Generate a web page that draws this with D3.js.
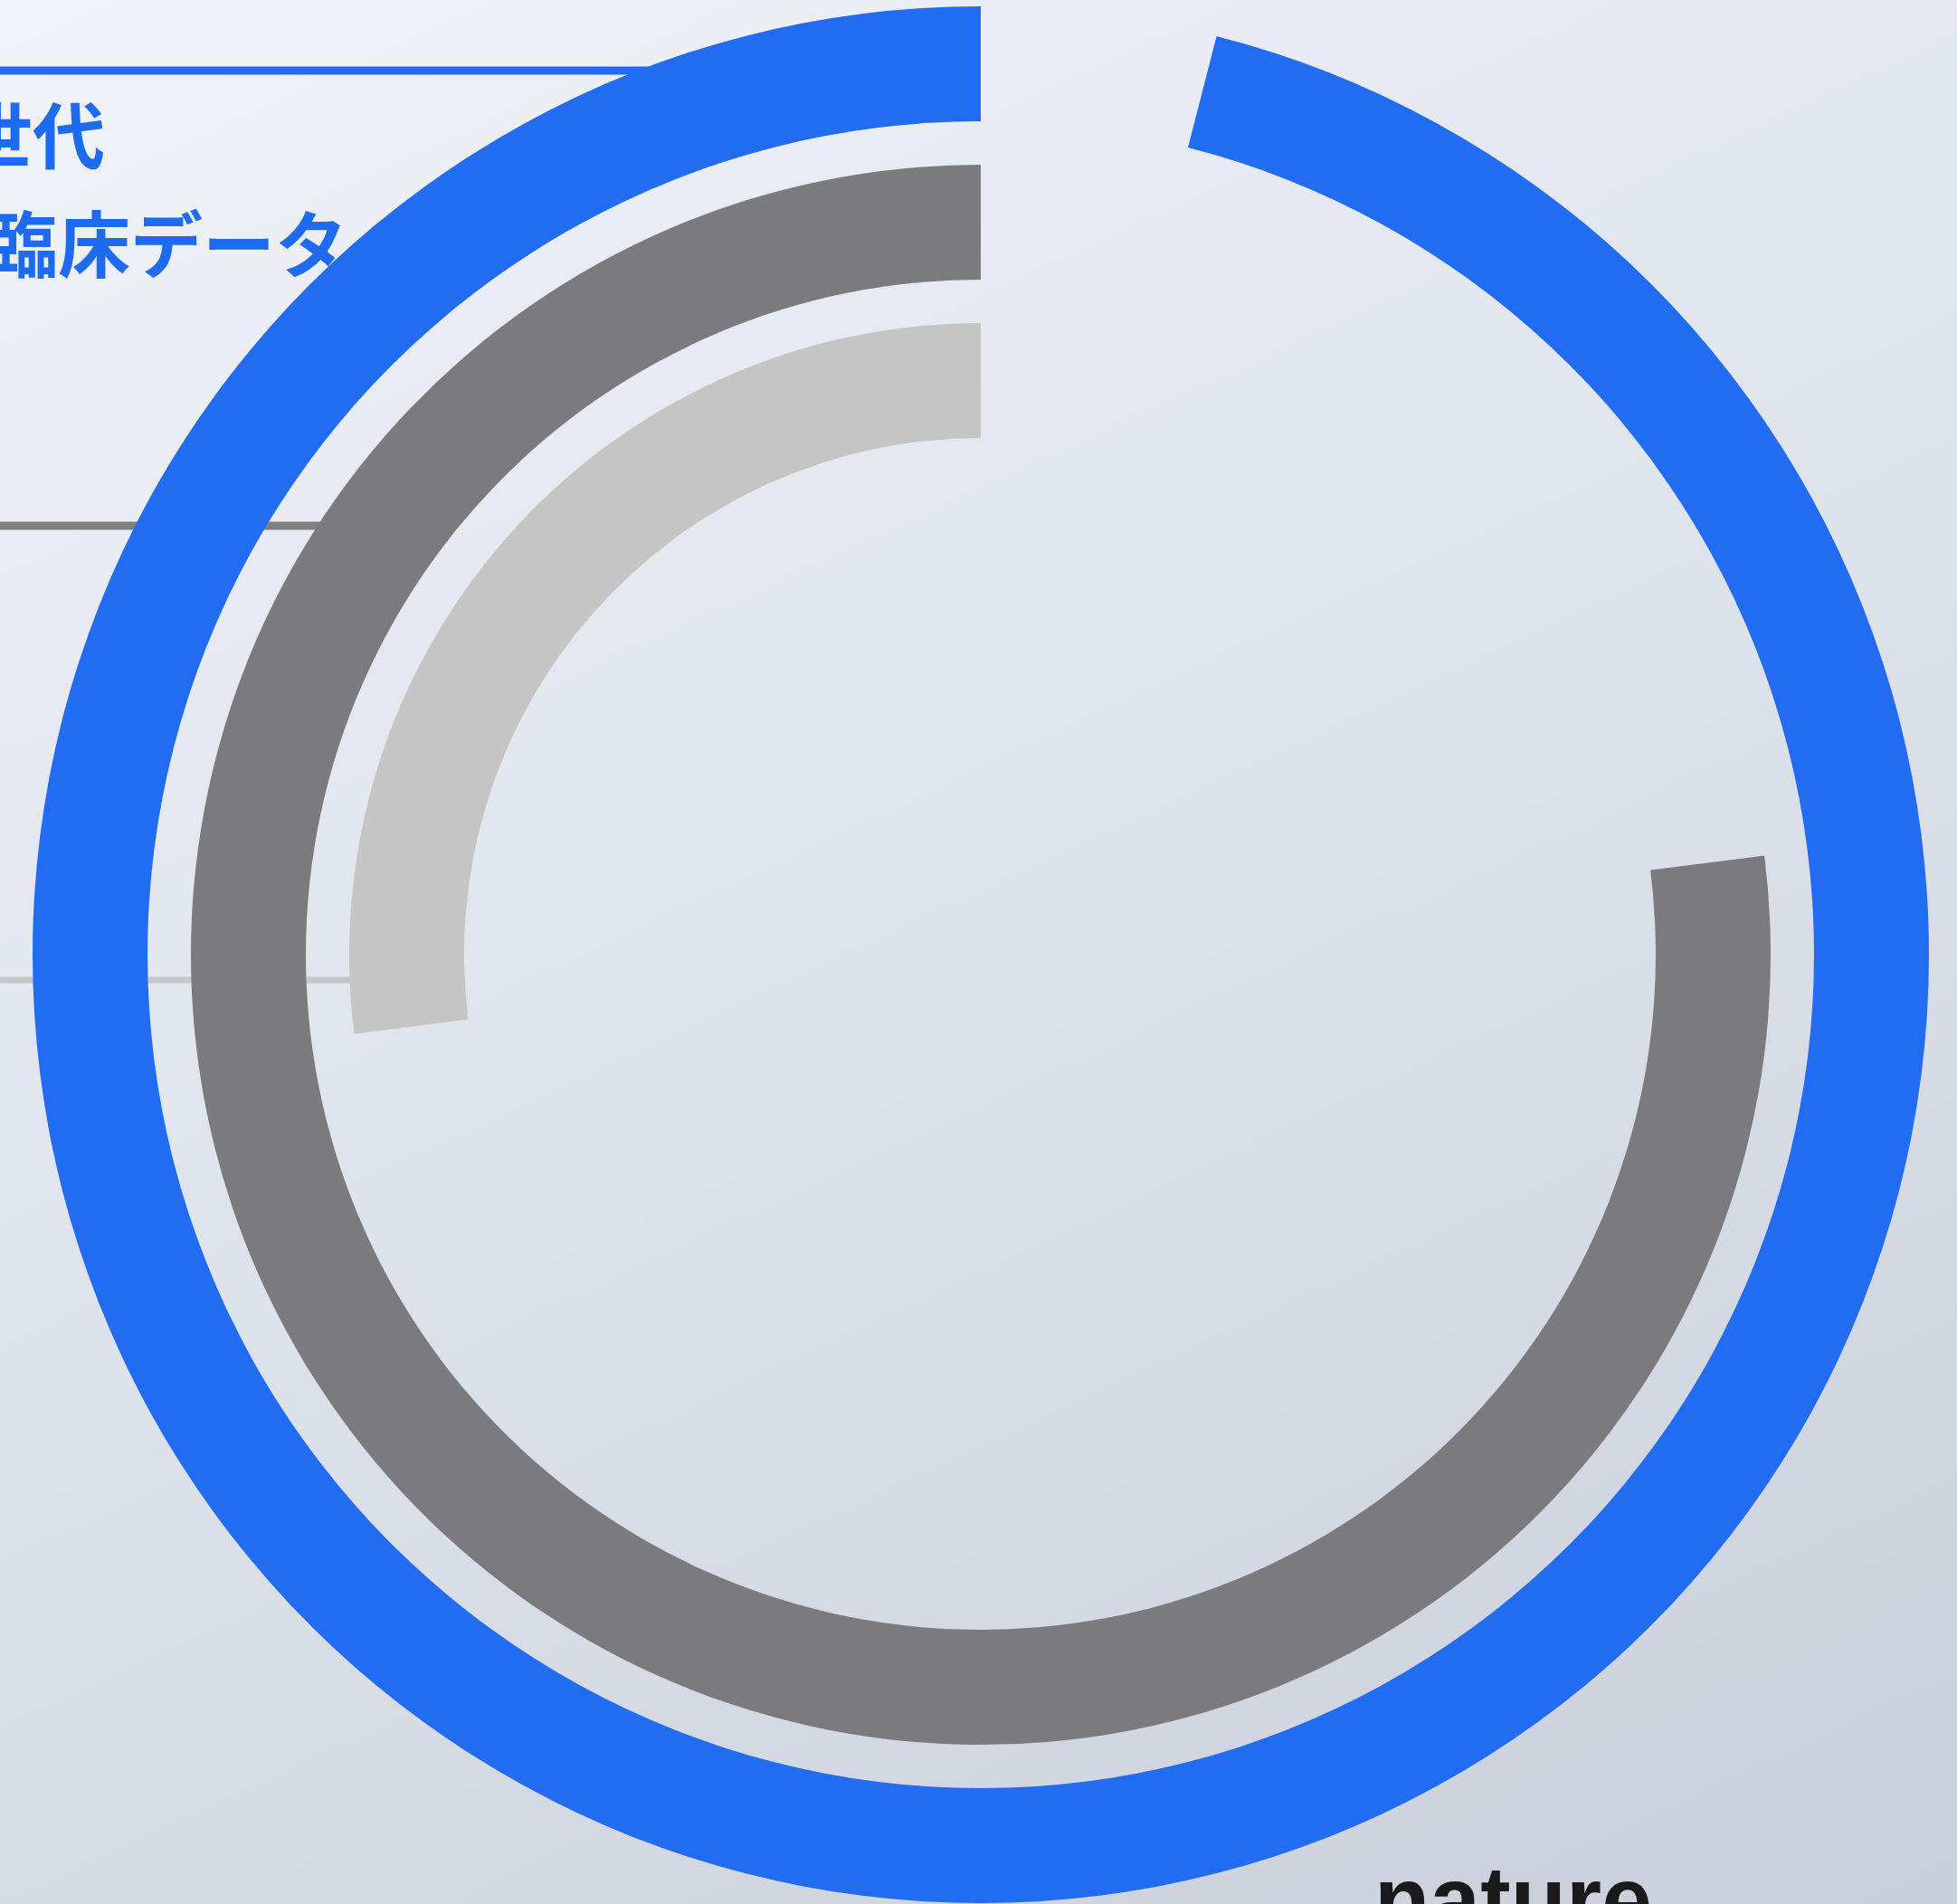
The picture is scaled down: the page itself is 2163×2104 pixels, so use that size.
<!DOCTYPE html>
<html>
<head>
<meta charset="utf-8">
<script src="https://cdn.jsdelivr.net/npm/d3@7"></script>
<style>
  html, body { margin: 0; padding: 0; overflow: hidden; }
  svg { display: block; }
</style>
</head>
<body>
<svg id="chart" width="2163" height="2104"></svg>
<script>
// ---- data ----
const series = ["light", "dark", "blue"];           // inner -> outer rings
const values = [0.27, 0.77, 0.96];                  // share of a full circle
const colors = ["#c5c5c6", "#7b7b7f", "#216cf1"];
const lineColors = ["#c6c6c7", "#808083", "#2469f4"];
const labelLines = ["世代", "臨床データ"];
const brand = "nature";

// ---- layout ----
const W = 2163, H = 2104;
const cx = 1084, cy = 1055;
const leaderY = { blue: 78, dark: 581, light: 1083 };

const svg = d3.select("#chart");
const defs = svg.append("defs");
const grad = defs.append("linearGradient")
  .attr("id", "bg").attr("x1", 0).attr("y1", 0).attr("x2", 0.67).attr("y2", 1.4);
grad.append("stop").attr("offset", 0).attr("stop-color", "#f0f3f7");
grad.append("stop").attr("offset", 0.45).attr("stop-color", "#dde1e9");
grad.append("stop").attr("offset", 1).attr("stop-color", "#c2c8d6");
svg.append("rect").attr("width", W).attr("height", H).attr("fill", "url(#bg)");

const rows = series.map((k, i) => ({ key: k, value: values[i], color: colors[i], lineColor: lineColors[i] }));

const r = d3.scaleBand().domain(series).range([571, 1048]).paddingInner(0.274);
const angle = d3.scaleLinear().domain([0, 1]).range([0, 2 * Math.PI]);

// leader lines (drawn beneath the rings)
svg.append("g").selectAll("line").data(rows).join("line")
  .attr("x1", 0)
  .attr("x2", d => {
    const rm = r(d.key) + r.bandwidth() / 2;
    const dy = leaderY[d.key] - cy;
    return cx - Math.sqrt(Math.max(0, rm * rm - dy * dy));
  })
  .attr("y1", d => leaderY[d.key])
  .attr("y2", d => leaderY[d.key])
  .attr("stroke", d => d.lineColor)
  .attr("stroke-width", d => d.key === "light" ? 7 : 9);

const g = svg.append("g").attr("transform", `translate(${cx},${cy})`);

const arc = d3.arc()
  .innerRadius(d => r(d.key))
  .outerRadius(d => r(d.key) + r.bandwidth())
  .startAngle(0)
  .endAngle(d => -angle(d.value));

g.selectAll("path").data(rows).join("path")
  .attr("d", arc)
  .attr("fill", d => d.color);

// label text (clipped at the left edge, as in the source)
const labelX = [-44, -16];
const labelBase = [180, 300];
svg.append("g").selectAll("text").data(labelLines).join("text")
  .attr("x", (d, i) => labelX[i])
  .attr("y", (d, i) => labelBase[i])
  .attr("font-family", "'Noto Sans CJK JP', 'Noto Sans', sans-serif")
  .attr("font-weight", 700)
  .attr("font-size", 80)
  .attr("fill", "#1f6bf0")
  .text(d => d);

svg.append("text")
  .attr("x", 1519).attr("y", 2136)
  .attr("font-family", "'Liberation Sans', sans-serif")
  .attr("font-weight", 700)
  .attr("font-size", 106)
  .attr("textLength", 307)
  .attr("lengthAdjust", "spacingAndGlyphs")
  .attr("fill", "#1a1a1a")
  .text(brand);
</script>
</body>
</html>
